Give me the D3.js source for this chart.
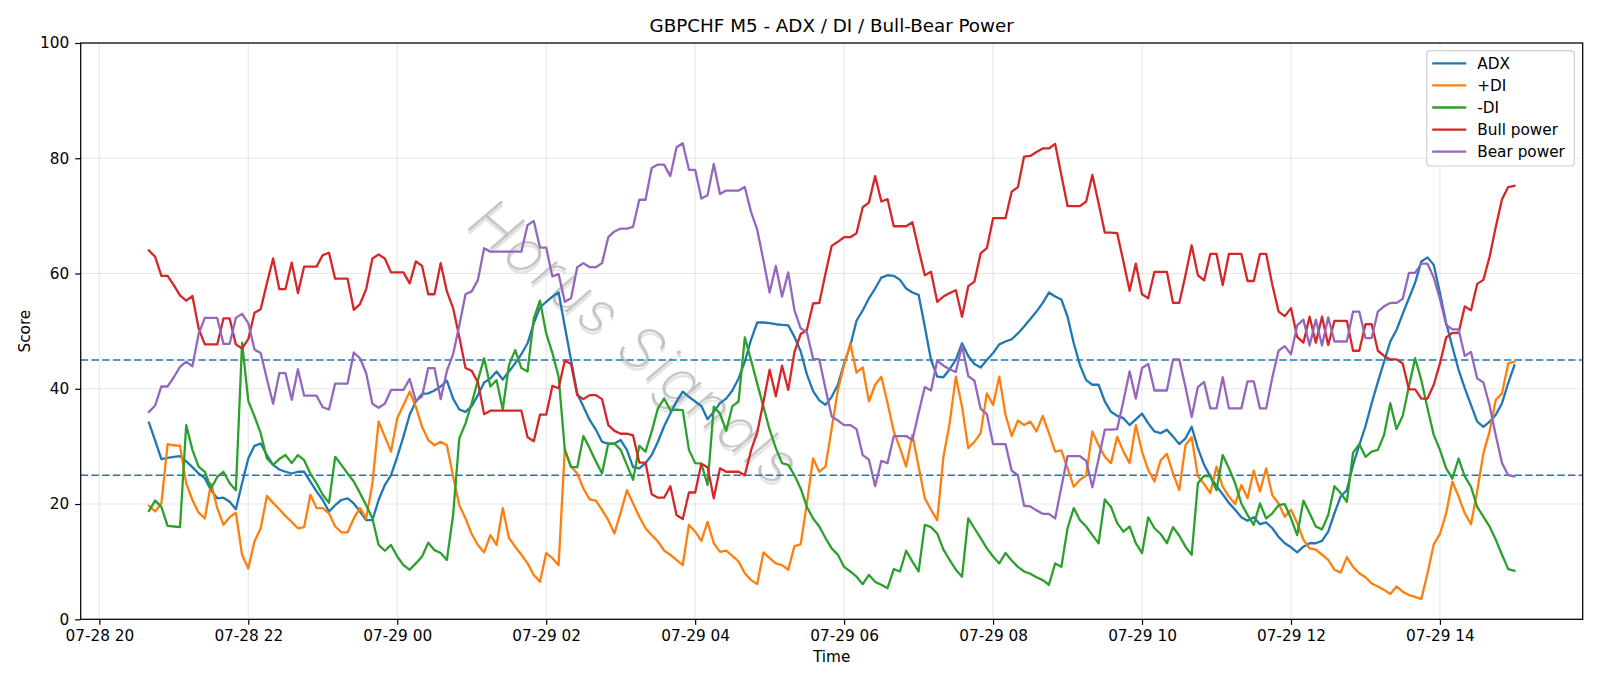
<!DOCTYPE html>
<html><head><meta charset="utf-8">
<script src="https://cdn.jsdelivr.net/npm/d3@7"></script>
<style>
html,body{margin:0;padding:0;background:#fff;}
svg{display:block;font-family:"DejaVu Sans",sans-serif;}
</style></head>
<body>
<svg id="chart" width="1600" height="686"></svg>
<script>
// ---- data (5-minute bars, 07-28 20:40 -> 07-29 15:00) ----
const startTime = Date.UTC(2025, 6, 28, 20, 40);
const stepMinutes = 5;
const adx = [34.1,31.0,27.8,28.0,28.2,28.3,27.4,26.4,25.3,24.5,22.4,21.0,21.1,20.4,19.1,23.6,27.9,30.1,30.5,28.5,
26.8,26.0,25.6,25.3,25.6,25.6,23.9,22.2,20.7,18.7,19.8,20.7,21.0,20.1,18.7,17.2,17.2,20.7,23.3,25.0,
28.2,31.7,35.5,37.8,39.1,39.2,39.7,40.4,41.4,38.3,36.4,36.0,37.0,38.9,41.1,41.8,43.0,41.6,43.0,44.4,
46.0,47.9,51.4,54.1,55.1,56.0,56.7,50.8,45.0,39.2,36.9,34.6,32.9,30.8,30.5,30.5,31.1,29.4,26.4,26.2,
27.1,28.5,30.8,33.5,35.7,37.8,39.5,38.6,37.8,37.0,34.7,36.0,37.5,38.3,39.7,41.8,44.7,48.5,51.5,51.5,
51.4,51.2,51.1,51.0,49.0,46.5,42.5,39.6,38.0,37.2,38.6,40.7,44.4,47.5,51.8,53.6,55.7,57.4,59.3,59.7,
59.6,58.9,57.4,56.7,56.3,50.8,45.0,42.1,42.0,43.4,45.0,47.9,45.7,44.3,43.7,45.0,46.2,47.7,48.2,48.6,
49.6,50.8,52.1,53.4,54.9,56.7,56.0,55.5,52.5,47.9,44.1,41.5,40.7,40.7,37.8,36.0,35.3,34.9,33.7,34.7,
35.7,34.0,32.6,32.3,32.9,31.7,30.4,31.4,33.4,29.7,26.8,24.8,23.1,21.7,20.2,19.0,17.7,17.1,17.7,16.5,
16.8,15.8,14.3,13.2,12.5,11.6,12.6,13.2,13.2,13.6,15.2,18.4,21.3,22.4,26.8,30.2,33.5,37.5,41.2,44.7,
48.2,50.2,53.0,55.7,58.4,62.1,62.8,61.5,56.6,51.4,47.3,43.3,40.1,37.2,34.3,33.4,34.3,35.5,37.5,41.0,
44.1];
const plusDI = [19.7,18.7,20.1,30.4,30.2,30.1,23.6,20.7,18.5,17.5,23.6,19.3,16.4,17.7,18.5,11.2,8.8,13.5,15.8,21.4,
20.2,19.1,17.9,16.9,15.8,16.0,21.6,19.3,19.3,18.4,16.1,15.1,15.1,17.5,19.3,17.5,23.6,34.3,31.7,29.1,
34.9,37.2,39.5,36.9,33.4,31.1,30.2,30.8,30.2,24.8,19.8,17.5,14.8,12.9,11.6,14.6,12.9,19.3,14.1,12.6,
11.2,9.7,7.7,6.5,11.5,10.6,9.4,29.5,26.5,25.3,22.7,20.8,20.6,19.0,17.2,14.9,18.5,22.4,20.1,17.8,
15.8,14.6,13.5,11.9,11.2,10.3,9.4,16.4,15.2,13.6,16.9,13.2,11.7,11.9,11.0,10.0,8.0,6.8,6.1,11.6,
10.6,9.7,9.4,8.6,12.7,13.0,20.1,27.9,25.6,26.5,33.1,39.8,44.1,47.9,42.8,43.7,37.8,40.7,42.1,37.5,
32.6,29.7,26.5,32.0,26.5,21.0,19.0,17.2,28.2,34.0,42.1,36.9,29.7,30.8,32.3,39.2,37.2,42.1,35.5,31.8,
34.5,33.7,34.3,32.6,35.3,32.3,29.1,29.3,26.2,23.0,24.2,25.0,32.6,30.2,28.2,27.1,31.7,29.1,27.1,33.7,
29.1,25.9,23.9,27.6,28.7,25.3,22.4,30.2,31.6,24.8,23.5,21.9,26.5,23.0,21.3,20.0,23.3,21.0,25.8,22.2,
26.2,21.5,20.1,17.8,19.0,16.7,13.8,12.3,12.1,11.2,10.3,8.6,8.1,10.8,9.1,8.0,7.3,6.2,5.7,5.1,
4.4,5.7,4.8,4.2,3.9,3.5,8.0,13.0,14.8,18.4,23.9,21.3,18.4,16.5,22.2,28.8,32.6,38.1,39.2,44.4,
44.7];
const minusDI = [18.8,20.6,19.5,16.2,16.1,16.0,33.7,29.4,26.5,25.6,22.7,24.7,25.6,23.6,22.4,48.0,37.9,35.2,32.3,27.9,
26.8,27.8,28.5,27.1,28.5,27.6,25.3,23.6,21.6,20.2,28.2,26.8,25.3,23.9,21.9,19.8,17.5,12.9,11.9,12.9,
10.9,9.4,8.6,9.7,10.9,13.3,12.0,11.5,10.3,18.1,31.4,34.0,37.5,41.5,45.3,40.4,41.5,36.4,44.1,46.7,
43.6,43.0,52.2,55.3,49.6,46.2,42.1,29.4,26.4,26.4,31.8,29.7,27.4,25.3,30.5,30.5,29.4,26.8,24.2,30.1,
29.1,32.6,36.6,38.3,36.3,36.4,36.3,29.4,27.1,27.0,23.3,36.9,35.7,32.7,37.0,37.8,48.9,45.0,40.9,36.9,
32.9,29.7,27.1,26.8,25.0,22.7,19.5,17.5,16.1,14.1,12.3,11.2,9.1,8.3,7.4,6.1,7.7,6.5,6.0,5.4,
8.7,8.3,11.9,10.0,8.3,16.4,16.0,14.9,12.1,10.3,8.6,7.4,17.5,15.8,14.1,12.3,10.9,9.7,11.5,10.2,
9.1,8.3,7.9,7.3,6.8,6.0,9.7,9.1,15.8,19.3,17.2,16.1,14.6,13.2,20.8,19.5,16.7,15.2,16.1,13.2,
11.5,17.7,15.8,14.8,13.2,16.0,14.5,12.6,11.2,23.6,24.9,24.8,22.4,28.5,26.2,23.6,20.1,18.1,16.4,20.1,
17.5,18.4,19.8,20.0,17.5,14.6,20.6,18.4,16.1,15.6,18.1,23.1,21.9,20.4,28.9,30.4,28.2,29.1,29.4,32.0,
37.5,33.0,35.3,40.4,45.3,41.5,36.6,32.0,29.4,26.2,24.4,27.9,24.8,23.0,19.5,17.8,16.1,13.8,11.2,8.7,
8.4];
const bullPower = [64.0,62.9,59.6,59.6,58.0,56.2,55.3,56.1,50.5,47.7,47.7,47.7,52.2,52.2,47.7,47.0,48.6,53.2,53.8,58.3,
62.6,57.3,57.3,61.9,56.6,61.2,61.2,61.2,63.2,63.6,59.1,59.1,59.1,53.7,54.7,57.3,62.6,63.3,62.6,60.2,
60.2,60.2,58.3,62.1,61.3,56.4,56.4,61.8,56.9,54.0,49.0,43.6,43.1,41.1,35.6,36.2,36.2,36.2,36.2,36.2,
36.2,31.6,30.9,35.5,35.5,40.5,40.1,44.9,44.3,38.9,38.2,38.9,38.9,38.2,33.7,32.7,32.2,32.2,31.9,27.2,
27.2,21.7,21.1,21.1,23.1,18.1,17.4,22.0,22.0,27.0,26.4,21.0,26.2,25.6,25.6,25.6,25.0,29.3,32.4,37.7,
43.3,38.7,44.0,39.8,46.4,49.5,50.2,54.8,54.9,60.0,64.8,65.5,66.3,66.3,67.0,71.5,72.3,76.9,72.5,72.9,
68.2,68.2,68.2,68.9,64.2,59.7,60.3,55.1,56.0,56.6,57.1,52.5,57.8,58.6,63.5,64.4,69.6,69.6,69.6,74.2,
75.0,80.3,80.4,81.1,81.7,81.7,82.5,77.1,71.7,71.7,71.7,72.5,77.1,72.2,67.1,67.1,67.0,62.1,57.0,61.7,
56.4,55.7,60.3,60.3,60.3,54.9,54.9,59.7,64.9,59.7,58.8,63.4,63.4,58.0,63.4,63.4,63.4,58.7,58.7,63.4,
63.4,58.0,53.4,52.6,54.0,49.0,48.0,52.5,48.0,52.5,47.6,51.8,51.8,51.8,46.6,46.6,51.2,51.2,46.6,45.7,
45.1,45.1,44.4,39.9,39.9,38.3,38.3,40.7,44.4,48.9,49.7,49.7,54.3,53.6,58.2,58.9,62.9,68.1,72.9,75.0,
75.2];
const bearPower = [36.0,37.1,40.4,40.4,42.0,43.8,44.7,43.9,49.5,52.3,52.3,52.3,47.8,47.8,52.3,53.0,51.4,46.8,46.2,41.7,
37.4,42.7,42.7,38.1,43.4,38.8,38.8,38.8,36.8,36.4,40.9,40.9,40.9,46.3,45.3,42.7,37.4,36.7,37.4,39.8,
39.8,39.8,41.7,37.9,38.7,43.6,43.6,38.2,43.1,46.0,51.0,56.4,56.9,58.9,64.4,63.8,63.8,63.8,63.8,63.8,
63.8,68.4,69.1,64.5,64.5,59.5,59.9,55.1,55.7,61.1,61.8,61.1,61.1,61.8,66.3,67.3,67.8,67.8,68.1,72.8,
72.8,78.3,78.9,78.9,76.9,81.9,82.6,78.0,78.0,73.0,73.6,79.0,73.8,74.4,74.4,74.4,75.0,70.7,67.6,62.3,
56.7,61.3,56.0,60.2,53.6,50.5,49.8,45.2,45.1,40.0,35.2,34.5,33.7,33.7,33.0,28.5,27.7,23.1,27.5,27.1,
31.8,31.8,31.8,31.1,35.8,40.3,39.7,44.9,44.0,43.4,42.9,47.5,42.2,41.4,36.5,35.6,30.4,30.4,30.4,25.8,
25.0,19.7,19.6,18.9,18.3,18.3,17.5,22.9,28.3,28.3,28.3,27.5,22.9,27.8,32.9,32.9,33.0,37.9,43.0,38.3,
43.6,44.3,39.7,39.7,39.7,45.1,45.1,40.3,35.1,40.3,41.2,36.6,36.6,42.0,36.6,36.6,36.6,41.3,41.3,36.6,
36.6,42.0,46.6,47.4,46.0,51.0,52.0,47.5,52.0,47.5,52.4,48.2,48.2,48.2,53.4,53.4,48.8,48.8,53.4,54.3,
54.9,54.9,55.6,60.1,60.1,61.7,61.7,59.3,55.6,51.1,50.3,50.3,45.7,46.4,41.8,41.1,37.1,31.9,27.1,25.0,
24.8];
const seriesNames = ["ADX", "+DI", "-DI", "Bull power", "Bear power"];
const seriesColors = ["#1f77b4", "#ff7f0e", "#2ca02c", "#d62728", "#9467bd"];
const thresholdLevels = [25, 45];
const yTicks = [0, 20, 40, 60, 80, 100];
const titleText = "GBPCHF M5 - ADX / DI / Bull-Bear Power";
const xLabel = "Time";
const yLabel = "Score";
const watermark = "Horus Signals";

// ---- layout ----
const W = 1600, H = 686;
const M = {left: 80.7, right: 1582.7, top: 43, bottom: 619.3};
const svg = d3.select("#chart");
svg.append("rect").attr("width", W).attr("height", H).attr("fill", "#fff");

const allSeries = [adx, plusDI, minusDI, bullPower, bearPower];
const times = adx.map((_, i) => new Date(startTime + i * stepMinutes * 60000));
const t0 = times[0].getTime(), t1 = times[times.length - 1].getTime();
const pad = (t1 - t0) * 0.05;
const x = d3.scaleUtc().domain([new Date(t0 - pad), new Date(t1 + pad)]).range([M.left, M.right]);
const y = d3.scaleLinear().domain([0, 100]).range([M.bottom, M.top]);

const xTickVals = d3.utcHour.every(2).range(new Date(t0 - pad), new Date(t1 + pad));
const fmt = d3.utcFormat("%m-%d %H");

// grid
const grid = svg.append("g");
grid.selectAll("line.gx").data(xTickVals).join("line")
  .attr("x1", d => x(d)).attr("x2", d => x(d)).attr("y1", M.top).attr("y2", M.bottom)
  .attr("stroke", "#b0b0b0").attr("stroke-opacity", 0.3).attr("stroke-width", 1.1);
grid.selectAll("line.gy").data(yTicks).join("line")
  .attr("x1", M.left).attr("x2", M.right).attr("y1", d => y(d)).attr("y2", d => y(d))
  .attr("stroke", "#b0b0b0").attr("stroke-opacity", 0.3).attr("stroke-width", 1.1);

// watermark: thin grey italic letters with a soft offset shadow
const wm = svg.append("g").attr("transform", "translate(632,346) rotate(40)");
const wmFont = "Inter, 'Noto Sans', sans-serif";
wm.append("text").text(watermark)
  .attr("x", 2.5).attr("y", 2.5)
  .attr("text-anchor", "middle").attr("dominant-baseline", "middle")
  .attr("font-family", wmFont).attr("font-weight", 200).attr("font-style", "italic")
  .attr("font-size", 60).attr("letter-spacing", 2)
  .attr("fill", "#d8d8d8").attr("fill-opacity", 0.7);
wm.append("text").text(watermark)
  .attr("text-anchor", "middle").attr("dominant-baseline", "middle")
  .attr("font-family", wmFont).attr("font-weight", 200).attr("font-style", "italic")
  .attr("font-size", 60).attr("letter-spacing", 2)
  .attr("fill", "#b4b4b4").attr("fill-opacity", 0.75);

// threshold lines
svg.selectAll("line.th").data(thresholdLevels).join("line")
  .attr("x1", M.left).attr("x2", M.right).attr("y1", d => y(d)).attr("y2", d => y(d))
  .attr("stroke", "#1f77b4").attr("stroke-width", 1.4).attr("stroke-dasharray", "7.5,3.2");

// series
const line = d3.line().x((d, i) => x(times[i])).y(d => y(d));
svg.append("clipPath").attr("id", "clip").append("rect")
  .attr("x", M.left).attr("y", M.top).attr("width", M.right - M.left).attr("height", M.bottom - M.top);
const lines = svg.append("g").attr("clip-path", "url(#clip)");
allSeries.forEach((s, k) => {
  lines.append("path").attr("d", line(s)).attr("fill", "none")
    .attr("stroke", seriesColors[k]).attr("stroke-width", 2.3)
    .attr("stroke-linejoin", "round").attr("stroke-linecap", "square");
});

// axes
const xAxis = d3.axisBottom(x).tickValues(xTickVals).tickFormat(fmt).tickSize(5.5).tickPadding(5);
const yAxis = d3.axisLeft(y).tickValues(yTicks).tickSize(5.5).tickPadding(6);
const gx = svg.append("g").attr("transform", `translate(0,${M.bottom})`).call(xAxis);
const gy = svg.append("g").attr("transform", `translate(${M.left},0)`).call(yAxis);
[gx, gy].forEach(g => {
  g.select(".domain").remove();
  g.selectAll("text").attr("font-size", 15.3).attr("fill", "#000").attr("font-family", "'DejaVu Sans', sans-serif");
  g.selectAll(".tick line").attr("stroke", "#000").attr("stroke-width", 1.2);
});
// frame
svg.append("rect").attr("x", M.left).attr("y", M.top).attr("width", M.right - M.left).attr("height", M.bottom - M.top)
  .attr("fill", "none").attr("stroke", "#000").attr("stroke-width", 1.25);

// labels
svg.append("text").text(titleText).attr("x", (M.left + M.right) / 2).attr("y", 32)
  .attr("text-anchor", "middle").attr("font-size", 18.3).attr("fill", "#000");
svg.append("text").text(xLabel).attr("x", (M.left + M.right) / 2).attr("y", 662)
  .attr("text-anchor", "middle").attr("font-size", 15.3).attr("fill", "#000");
svg.append("text").text(yLabel).attr("transform", `translate(30,${(M.top + M.bottom) / 2}) rotate(-90)`)
  .attr("text-anchor", "middle").attr("font-size", 15.3).attr("fill", "#000");

// legend
const lg = svg.append("g").attr("transform", "translate(1426.7,50.7)");
lg.append("rect").attr("width", 147.6).attr("height", 115.3).attr("rx", 3.5)
  .attr("fill", "#fff").attr("fill-opacity", 0.8).attr("stroke", "#d0d0d0").attr("stroke-width", 1.2);
seriesNames.forEach((n, k) => {
  const yy = 12.6 + k * 22.1;
  lg.append("line").attr("x1", 5.5).attr("x2", 39.5).attr("y1", yy).attr("y2", yy)
    .attr("stroke", seriesColors[k]).attr("stroke-width", 2.3);
  lg.append("text").text(n).attr("x", 50.5).attr("y", yy).attr("dy", "0.36em")
    .attr("font-size", 15.3).attr("fill", "#000");
});
</script>
</body></html>
